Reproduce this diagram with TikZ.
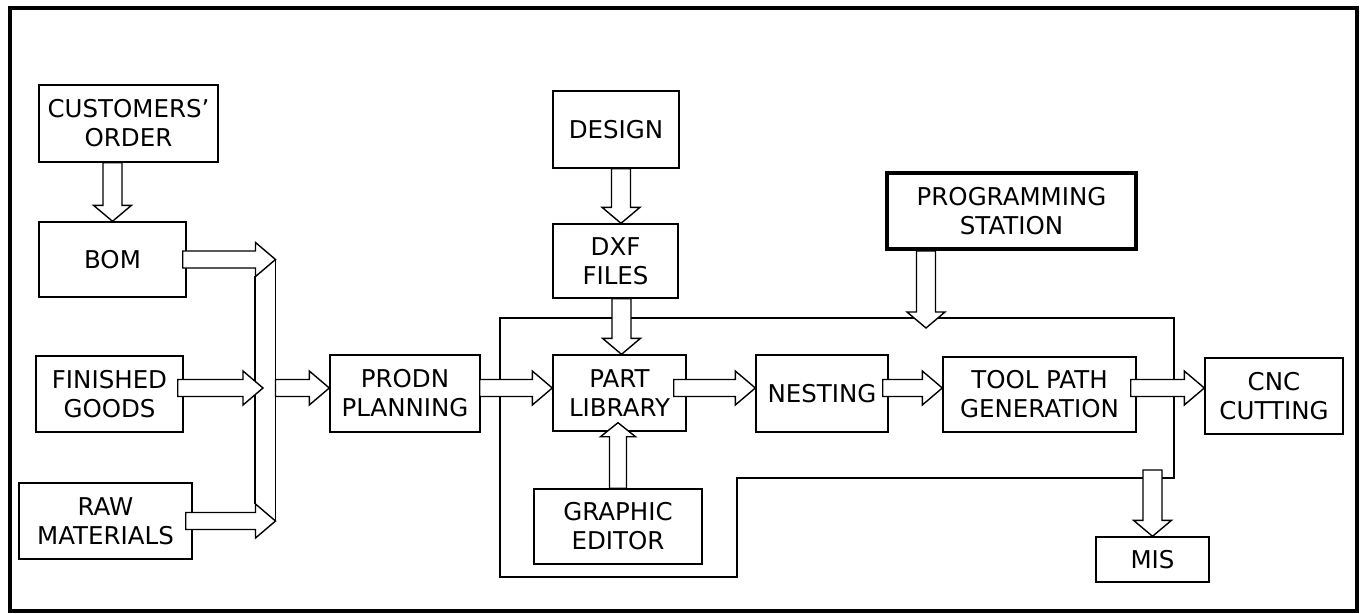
\documentclass[tikz,border=0pt]{standalone}
\usepackage{fontspec}
\setmainfont{DejaVu Sans}
\usetikzlibrary{calc}
\pgfdeclarelayer{bg}
\pgfdeclarelayer{fg}
\pgfsetlayers{bg,main,fg}
\tikzset{
  box/.style={draw, line width=1.4pt, inner sep=0pt, align=center,
    font=\fontsize{24.5}{29}\selectfont},
  thickbox/.style={box, line width=3.6pt},
  wire/.style={draw, line width=1.4pt},
  rarrow/.style={draw, line width=1.4pt, fill=white, line join=miter,
    to path={let \p1=(\tikztostart), \p2=(\tikztotarget) in
      (\x1,\y1+8.5pt) -- (\x2-20pt,\y1+8.5pt) -- (\x2-20pt,\y1+17pt) -- (\x2,\y1)
      -- (\x2-20pt,\y1-17pt) -- (\x2-20pt,\y1-8.5pt) -- (\x1,\y1-8.5pt) -- cycle}},
  darrow/.style={draw, line width=1.4pt, fill=white, line join=miter,
    to path={let \p1=(\tikztostart), \p2=(\tikztotarget) in
      (\x1-9.5pt,\y1) -- (\x1-9.5pt,\y2+16pt) -- (\x1-19pt,\y2+16pt) -- (\x1,\y2)
      -- (\x1+19pt,\y2+16pt) -- (\x1+9.5pt,\y2+16pt) -- (\x1+9.5pt,\y1) -- cycle}},
  uarrow/.style={draw, line width=1.4pt, fill=white, line join=miter,
    to path={let \p1=(\tikztostart), \p2=(\tikztotarget) in
      (\x1-8.5pt,\y1) -- (\x1-8.5pt,\y2-14pt) -- (\x1-17.5pt,\y2-14pt) -- (\x1,\y2)
      -- (\x1+17.5pt,\y2-14pt) -- (\x1+8.5pt,\y2-14pt) -- (\x1+8.5pt,\y1) -- cycle}},
}
\begin{document}
\begin{tikzpicture}[x=1pt,y=-1pt]
\useasboundingbox (0,0) rectangle (1362,613);
\draw[line width=4.5pt] (10,8) rectangle (1357,611);

% boxes
\node[box, minimum width=179pt, minimum height=77pt] (co) at (128.5,123.5) {CUSTOMERS'\\ORDER};
\node[box, minimum width=147pt, minimum height=75pt] (bom) at (112.5,259.5) {BOM};
\node[box, minimum width=147pt, minimum height=76pt] (fg) at (109.5,394) {FINISHED\\GOODS};
\node[box, minimum width=173pt, minimum height=76pt] (raw) at (105.5,521) {RAW\\MATERIALS};
\node[box, minimum width=150pt, minimum height=77pt] (prodn) at (405,393.5) {PRODN\\PLANNING};
\node[box, minimum width=126pt, minimum height=77pt] (design) at (616,129.5) {DESIGN};
\node[box, minimum width=125pt, minimum height=74pt] (dxf) at (615.5,261) {DXF\\FILES};
\node[box, minimum width=133pt, minimum height=76pt] (part) at (619.5,393) {PART\\LIBRARY};
\node[box, minimum width=168pt, minimum height=75pt] (ge) at (618,526.5) {GRAPHIC\\EDITOR};
\node[box, minimum width=132pt, minimum height=77pt] (nest) at (822,393.5) {NESTING};
\node[box, minimum width=193pt, minimum height=75pt] (tpg) at (1039.5,394.5) {TOOL PATH\\GENERATION};
\node[box, minimum width=138pt, minimum height=76pt] (cnc) at (1274,396) {CNC\\CUTTING};
\node[thickbox, minimum width=249pt, minimum height=76pt] (prog) at (1011.5,211) {PROGRAMMING\\STATION};
\node[box, minimum width=113pt, minimum height=45pt] (mis) at (1152.5,559.5) {MIS};

% helper coordinates
\coordinate (mainrow) at (0,388);
\coordinate (busx) at (275.5,0);
\coordinate (bomtip) at (bom.east -| busx);
\coordinate (rawtip) at (raw.east -| busx);
\coordinate (fgtip) at (263,388);
\coordinate (progtip) at (926,328);
\coordinate (mistail) at (1152.5,470);

\begin{pgfonlayer}{bg}
  % enclosure
  \draw[wire] (500,318) -- (1174,318) -- (1174,478) -- (737,478) -- (737,577) -- (500,577) -- cycle;
  % merging bus
  \draw[wire] (255,276) -- (255,504);
  \draw[wire] (bomtip) -- (rawtip);
\end{pgfonlayer}

\begin{pgfonlayer}{fg}
  \draw[darrow] (co.south -| bom.north) to (bom.north);
  \draw[rarrow] ([xshift=-4pt]bom.east) to (bomtip);
  \draw[rarrow] ([xshift=-6pt]fg.east |- mainrow) to (fgtip);
  \draw[rarrow] ([xshift=-7pt]raw.east) to (rawtip);
  \draw[rarrow] (busx |- mainrow) to (prodn.west |- mainrow);
  \draw[rarrow] ([xshift=-1pt]prodn.east |- mainrow) to (part.west |- mainrow);
  \draw[rarrow] ([xshift=-13pt]part.east |- mainrow) to (nest.west |- mainrow);
  \draw[rarrow] ([xshift=-6pt]nest.east |- mainrow) to (tpg.west |- mainrow);
  \draw[rarrow] ([xshift=-6pt]tpg.east |- mainrow) to (cnc.west |- mainrow);
  \draw[darrow] ([xshift=5pt]design.south) to ([xshift=5pt]dxf.north);
  \draw[darrow] ([xshift=2pt]part.north |- dxf.south) to ([xshift=2pt]part.north);
  \draw[uarrow] (ge.north) to ([yshift=9pt]part.south);
  \draw[darrow] (prog.south -| progtip) to (progtip);
  \draw[darrow] (mistail) to (mis.north);
\end{pgfonlayer}
\end{tikzpicture}
\end{document}
